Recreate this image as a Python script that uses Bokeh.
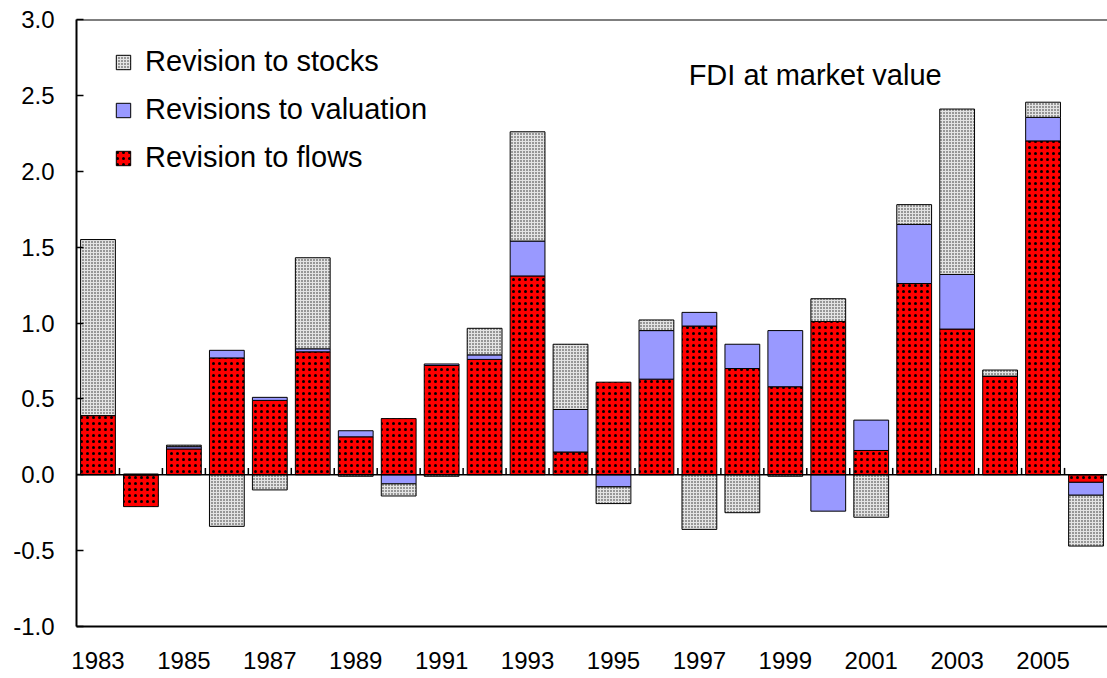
from bokeh.plotting import figure
from bokeh.models import (ColumnDataSource, FixedTicker, Span, Legend, LegendItem,
                          Label, Range1d, NumeralTickFormatter)
from bokeh.embed import file_html
from bokeh.resources import INLINE

# ---- data ----
years = list(range(1983, 2007))
flows = [0.39, -0.21, 0.17, 0.77, 0.49, 0.81, 0.25, 0.37, 0.72, 0.76, 1.31, 0.15,
         0.61, 0.63, 0.98, 0.70, 0.58, 1.01, 0.16, 1.26, 0.96, 0.65, 2.20, -0.05]
valuation = [0.0, 0.0, 0.015, 0.05, 0.02, 0.02, 0.04, -0.06, 0.01, 0.03, 0.23, 0.28,
             -0.08, 0.32, 0.09, 0.16, 0.37, -0.24, 0.20, 0.39, 0.36, 0.0, 0.155, -0.085]
stocks = [1.16, 0.005, 0.01, -0.34, -0.10, 0.60, -0.01, -0.08, -0.01, 0.175, 0.72, 0.43,
          -0.11, 0.07, -0.36, -0.25, -0.01, 0.15, -0.28, 0.13, 1.09, 0.04, 0.10, -0.335]
x_tick_years = [1983, 1985, 1987, 1989, 1991, 1993, 1995, 1997, 1999, 2001, 2003, 2005]
y_ticks = [-1.0, -0.5, 0.0, 0.5, 1.0, 1.5, 2.0, 2.5, 3.0]
title_text = "FDI at market value"
names = ["Revision to stocks", "Revisions to valuation", "Revision to flows"]

FONT = "Liberation Sans"

# stacked positives and negatives separately (flows, valuation, stocks)
pos = [0.0] * len(years)
neg = [0.0] * len(years)
stacks = {}
for key, series in (("flows", flows), ("valuation", valuation), ("stocks", stocks)):
    bottoms, tops = [], []
    for i, v in enumerate(series):
        if v >= 0:
            bottoms.append(pos[i]); tops.append(pos[i] + v); pos[i] += v
        else:
            bottoms.append(neg[i]); tops.append(neg[i] + v); neg[i] += v
    stacks[key] = ColumnDataSource(dict(x=years, bottom=bottoms, top=tops))

p = figure(width=1107, height=678, x_range=Range1d(1982.5, 2006.5),
           y_range=Range1d(-1.0, 3.0), output_backend="svg", toolbar_location=None,
           min_border_left=76, min_border_right=0, min_border_top=19,
           min_border_bottom=52)
p.outline_line_color = None
p.xgrid.grid_line_color = None
p.ygrid.grid_line_color = None
p.background_fill_color = "white"
p.border_fill_color = "white"

W = 0.81
r_flows = p.vbar(x="x", bottom="bottom", top="top", width=W, source=stacks["flows"],
                 fill_color="#ff0000", line_color="black", line_width=1,
                 hatch_pattern="dot", hatch_color="black", hatch_scale=6, hatch_weight=1.5)
r_val = p.vbar(x="x", bottom="bottom", top="top", width=W, source=stacks["valuation"],
               fill_color="#9999ff", line_color="black", line_width=1)
r_stocks = p.vbar(x="x", bottom="bottom", top="top", width=W, source=stacks["stocks"],
                  fill_color="#e4e4e4", line_color="black", line_width=1,
                  hatch_pattern="dot", hatch_color="#222222", hatch_scale=3, hatch_weight=1.2)

# zero line with small category-boundary ticks
p.add_layout(Span(location=0, dimension="width", line_color="black", line_width=1.5))
bounds = [y + 0.5 for y in years[:-1]]
p.segment(x0=bounds, y0=[0] * len(bounds), x1=bounds, y1=[0.045] * len(bounds),
          line_color="black", line_width=1.5)
# top border
p.add_layout(Span(location=3.0, dimension="width", line_color="black", line_width=2))

# axes
p.xaxis.ticker = FixedTicker(ticks=x_tick_years)
p.xaxis.major_tick_line_color = None
p.xaxis.minor_tick_line_color = None
p.xaxis.major_tick_out = 0
p.xaxis.major_label_standoff = 25
p.xaxis.axis_line_width = 2
p.xaxis.axis_line_color = "black"
p.xaxis.major_label_text_font = FONT
p.xaxis.major_label_text_font_size = "24px"
p.xaxis.major_label_text_color = "black"

p.yaxis.ticker = FixedTicker(ticks=y_ticks)
p.yaxis.formatter = NumeralTickFormatter(format="0.0")
p.yaxis.minor_tick_line_color = None
p.yaxis.major_tick_in = 7
p.yaxis.major_tick_out = 0
p.yaxis.major_tick_line_width = 1.5
p.yaxis.major_label_standoff = 22
p.yaxis.axis_line_width = 2
p.yaxis.axis_line_color = "black"
p.yaxis.major_label_text_font = FONT
p.yaxis.major_label_text_font_size = "24px"
p.yaxis.major_label_text_color = "black"

legend = Legend(items=[LegendItem(label=names[0], renderers=[r_stocks]),
                       LegendItem(label=names[1], renderers=[r_val]),
                       LegendItem(label=names[2], renderers=[r_flows])],
                location=(38, 452), padding=0, margin=0, spacing=15,
                label_height=32, glyph_width=18, glyph_height=18, label_standoff=13,
                label_text_font=FONT, label_text_font_size="29px", label_text_color="black",
                border_line_color=None, background_fill_alpha=0)
p.add_layout(legend)

p.add_layout(Label(x=1996.75, y=2.637, text=title_text, text_font=FONT,
                   text_font_size="29px", text_baseline="alphabetic", text_color="black"))

open("out.html", "w").write(file_html(p, INLINE))
